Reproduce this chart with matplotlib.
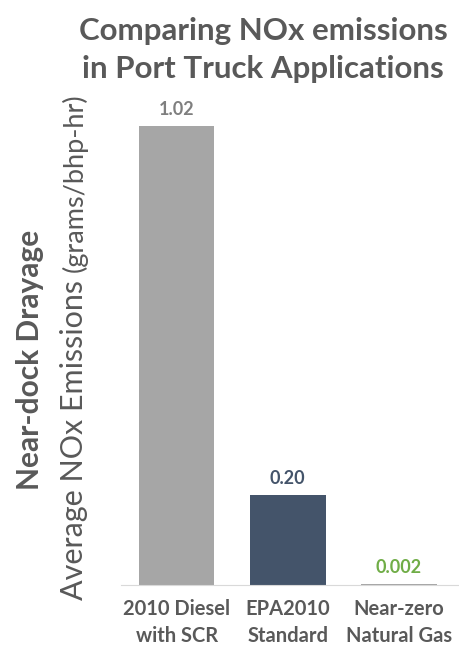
import matplotlib.pyplot as plt

# Data
categories = ["2010 Diesel\nwith SCR", "EPA2010\nStandard", "Near-zero\nNatural Gas"]
values = [1.02, 0.20, 0.002]
value_labels = ["1.02", "0.20", "0.002"]
bar_colors = ["#A6A6A6", "#44546A", "#A6A6A6"]
label_colors = ["#7F7F7F", "#44546A", "#70AD47"]

plt.rcParams['font.family'] = ['Lato', 'DejaVu Sans']
grey = "#595959"

fig = plt.figure(figsize=(4.6, 6.52), dpi=100)
ax = fig.add_axes([121 / 460, 67 / 652, 339 / 460, 540 / 652])

x = range(len(categories))
bars = ax.bar(x, values, width=0.68, color=bar_colors)
for b, lab, c in zip(bars, value_labels, label_colors):
    ax.text(b.get_x() + b.get_width() / 2, b.get_height() + 0.017, lab,
            ha='center', va='bottom', fontsize=13, fontweight='bold', color=c)

ax.set_xlim(-0.5, 2.55)
ax.set_ylim(0, 1.2)
ax.set_xticks(list(x))
ax.set_xticklabels(categories, fontsize=14.5, fontweight='bold', color=grey,
                   linespacing=1.45)
ax.tick_params(axis='x', length=0, pad=10)
ax.set_yticks([])
for s in ['top', 'right', 'left']:
    ax.spines[s].set_visible(False)
ax.spines['bottom'].set_color('#D9D9D9')

# Title
fig.text(263 / 460, 1 - 50 / 652, "Comparing NOx emissions\nin Port Truck Applications",
         ha='center', va='center', fontsize=22.5, fontweight='bold', color=grey,
         linespacing=1.45)

# Y labels
fig.text(30 / 460, 1 - 360 / 652, "Near-dock Drayage", rotation=90,
         ha='center', va='center', fontsize=21.5, fontweight='bold', color=grey)
t1 = fig.text(88 / 460, 1 - 600 / 652, "Average NOx Emissions ", rotation=90,
              ha='right', va='bottom', fontsize=22, color=grey)
ax.annotate("(grams/bhp-hr)", xy=(1, 1), xycoords=t1, rotation=90,
            ha='right', va='bottom', fontsize=19.5, color=grey)

fig.savefig("out.png", dpi=100)
